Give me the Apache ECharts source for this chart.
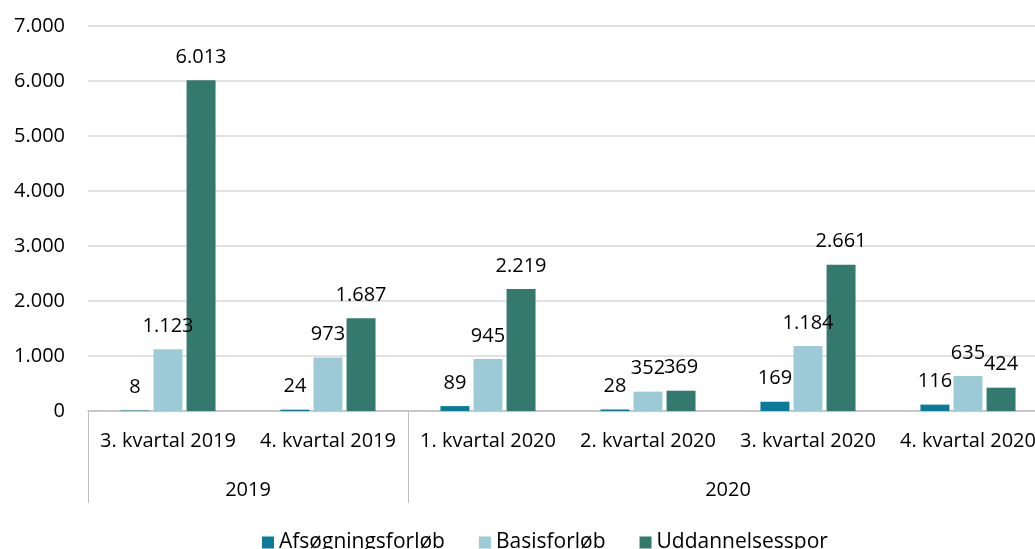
<!DOCTYPE html>
<html>
<head>
<meta charset="utf-8">
<script src="https://cdn.jsdelivr.net/npm/echarts@6/dist/echarts.min.js"></script>
<style>
  html, body { margin: 0; padding: 0; background: #fff; }
  #main { width: 1035px; height: 549px; }
</style>
</head>
<body>
<div id="main"></div>
<script>
var quarters = ['3. kvartal 2019', '4. kvartal 2019', '1. kvartal 2020', '2. kvartal 2020', '3. kvartal 2020', '4. kvartal 2020'];
var years = ['2019', '2020'];
var afsoegning = [8, 24, 89, 28, 169, 116];
var basis = [1123, 973, 945, 352, 1184, 635];
var uddannelse = [6013, 1687, 2219, 369, 2661, 424];

var FONT = 'Open Sans';

// 1.234 style thousands
function fmt(v) {
    return String(v).replace(/\B(?=(\d{3})+(?!\d))/g, '.');
}

var chart = echarts.init(document.getElementById('main'));

function barSeries(name, data, color) {
    return {
        name: name,
        type: 'bar',
        data: data,
        barWidth: 29,
        barGap: '14%',
        itemStyle: { color: color },
        label: {
            show: true,
            position: 'top',
            distance: 13,
            color: '#000',
            fontFamily: FONT,
            fontSize: 20,
            formatter: function (p) { return fmt(p.value); }
        }
    };
}

var option = {
    animation: false,
    textStyle: { fontFamily: FONT },
    // plot runs past the right edge, like the source
    grid: { left: 88, width: 960, top: 26, bottom: 138, outerBoundsMode: 'none', containLabel: false },
    legend: {
        top: 527,
        left: 257,
        itemWidth: 12,
        itemHeight: 12,
        itemGap: 34,
        icon: 'rect',
        textStyle: { fontFamily: FONT, fontSize: 21, color: '#000' },
        data: ['Afsøgningsforløb', 'Basisforløb', 'Uddannelsesspor']
    },
    xAxis: [
        {
            type: 'category',
            data: quarters,
            axisLine: { lineStyle: { color: '#bfbfbf', width: 1.5 } },
            axisTick: { show: false },
            axisLabel: { color: '#000', fontFamily: FONT, fontSize: 20, margin: 20, interval: 0 }
        },
        {
            // group row (years) under the quarter labels
            type: 'value',
            position: 'bottom',
            min: 0,
            max: quarters.length,
            axisLine: { show: false },
            splitLine: { show: false },
            axisTick: {
                show: true,
                length: 92,
                customValues: [0, 2, 6],
                lineStyle: { color: '#bfbfbf', width: 1 }
            },
            axisLabel: {
                color: '#000',
                fontFamily: FONT,
                fontSize: 20,
                margin: 69,
                customValues: [1, 4],
                formatter: function (v) { return v === 1 ? years[0] : years[1]; }
            }
        }
    ],
    yAxis: {
        type: 'value',
        min: 0,
        max: 7000,
        interval: 1000,
        axisLine: { show: false },
        axisTick: { show: false },
        splitLine: { lineStyle: { color: '#d9d9d9', width: 1.5 } },
        axisLabel: {
            color: '#000',
            fontFamily: FONT,
            fontSize: 20,
            margin: 23,
            formatter: function (v) { return fmt(v); }
        }
    },
    series: [
        barSeries('Afsøgningsforløb', afsoegning, '#0a7b99'),
        barSeries('Basisforløb', basis, '#9ccbd7'),
        barSeries('Uddannelsesspor', uddannelse, '#33796d')
    ]
};

chart.setOption(option);
</script>
</body>
</html>
